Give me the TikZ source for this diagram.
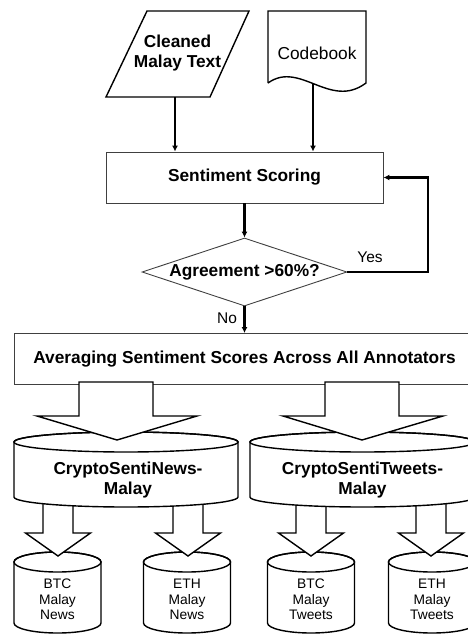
\documentclass[tikz,border=0pt]{standalone}
\usepackage{fontspec}
\setmainfont{Liberation Sans}
\usetikzlibrary{shapes.geometric,arrows.meta}

\tikzset{
  bigtxt/.style={font=\fontsize{17.3}{20}\selectfont\bfseries, align=center, inner sep=0pt},
  smalltxt/.style={font=\fontsize{13.8}{15.5}\selectfont, align=center, inner sep=0pt},
  labeltxt/.style={font=\fontsize{15.5}{18}\selectfont, inner sep=0pt},
  thinbox/.style={draw=black!75, line width=0.9pt, fill=white},
  outline/.style={draw=black, line width=1.4pt},
  flow/.style={line width=2.5pt, -{Latex[length=6pt,width=6pt]}},
  fatarrow/.style={draw=black, line width=1.4pt, fill=white, line join=miter}
}

\begin{document}
\begin{tikzpicture}[x=1pt,y=1pt]
  \clip (0,0) rectangle (468,-635);

  % inputs
  \draw[outline] (147,-11) -- (249,-11) -- (210,-97) -- (106,-97) -- cycle;
  \node[bigtxt] (clean) at (177.5,-53) {Cleaned\\Malay Text};
  \draw[outline] (268,-83) -- (268,-11) -- (366,-11) -- (366,-83) .. controls (330,-110) and (300,-60) .. (268,-83);
  \node[bigtxt, font=\fontsize{17.3}{20}\selectfont] (code) at (317,-53) {Codebook};
  \coordinate (cleanout) at (175,-97);
  \coordinate (codeout) at (313,-84);

  % scoring and check
  \node[thinbox, bigtxt, minimum width=277pt, minimum height=51pt] (scoring) at (244.5,-177.5) {Sentiment Scoring};
  \draw[flow] (cleanout) -- (cleanout |- scoring.north);
  \draw[flow] (codeout) -- (codeout |- scoring.north);

  \node[thinbox, bigtxt, diamond, aspect=3, minimum width=205pt, minimum height=68pt] (agree) at (244.5,-272) {Agreement >60\%?};
  \draw[flow] (scoring.south) -- (agree.north);
  \coordinate (loop) at (428,-272);
  \draw[flow] (agree.east) -- (loop) |- (scoring.east);
  \node[labeltxt] (yes) at (370,-257) {Yes};

  \node[thinbox, bigtxt, minimum width=461pt, minimum height=51pt] (avg) at (244.5,-359) {Averaging Sentiment Scores Across All Annotators};
  \draw[flow] (agree.south) -- (avg.north);
  \node[labeltxt] (no) at (227,-318) {No};

  % small datasets
  \draw[outline, fill=white] (14,-562) -- (14,-623) arc[start angle=180,end angle=360,x radius=43.5,y radius=10] -- (101,-562) arc[start angle=0,end angle=180,x radius=43.5,y radius=10] -- cycle;
  \draw[outline] (57.5,-562) ellipse [x radius=43.5,y radius=10];
  \node[smalltxt] (btcnews) at (57.5,-599.5) {BTC\\Malay\\News};

  \draw[outline, fill=white] (143.5,-562) -- (143.5,-623) arc[start angle=180,end angle=360,x radius=43.5,y radius=10] -- (230.5,-562) arc[start angle=0,end angle=180,x radius=43.5,y radius=10] -- cycle;
  \draw[outline] (187,-562) ellipse [x radius=43.5,y radius=10];
  \node[smalltxt] (ethnews) at (187,-599.5) {ETH\\Malay\\News};

  \draw[outline, fill=white] (267.5,-562) -- (267.5,-623) arc[start angle=180,end angle=360,x radius=43.5,y radius=10] -- (354.5,-562) arc[start angle=0,end angle=180,x radius=43.5,y radius=10] -- cycle;
  \draw[outline] (311,-562) ellipse [x radius=43.5,y radius=10];
  \node[smalltxt] (btctweets) at (311,-599.5) {BTC\\Malay\\Tweets};

  \draw[outline, fill=white] (388.5,-562) -- (388.5,-623) arc[start angle=180,end angle=360,x radius=43.5,y radius=10] -- (475.5,-562) arc[start angle=0,end angle=180,x radius=43.5,y radius=10] -- cycle;
  \draw[outline] (432,-562) ellipse [x radius=43.5,y radius=10];
  \node[smalltxt] (ethtweets) at (432,-599.5) {ETH\\Malay\\Tweets};

  % split arrows
  \draw[fatarrow] (43,-500) -- (43,-533) -- (25.5,-533) -- (58,-556) -- (90.5,-533) -- (73,-533) -- (73,-500);
  \draw[fatarrow] (173,-500) -- (173,-533) -- (155.5,-533) -- (188,-556) -- (220.5,-533) -- (203,-533) -- (203,-500);
  \draw[fatarrow] (296,-500) -- (296,-533) -- (278.5,-533) -- (311,-556) -- (343.5,-533) -- (326,-533) -- (326,-500);
  \draw[fatarrow] (416,-500) -- (416,-533) -- (398.5,-533) -- (431,-556) -- (463.5,-533) -- (446,-533) -- (446,-500);

  % corpora
  \draw[outline, fill=white] (14,-442) -- (14,-497) arc[start angle=180,end angle=360,x radius=112,y radius=10] -- (238,-442) arc[start angle=0,end angle=180,x radius=112,y radius=10] -- cycle;
  \draw[outline] (126,-442) ellipse [x radius=112,y radius=10];
  \node[bigtxt] (newsdb) at (128,-480) {CryptoSentiNews-\\Malay};

  \draw[outline, fill=white] (250,-442) -- (250,-497) arc[start angle=180,end angle=360,x radius=112.5,y radius=10] -- (475,-442) arc[start angle=0,end angle=180,x radius=112.5,y radius=10] -- cycle;
  \draw[outline] (362.5,-442) ellipse [x radius=112.5,y radius=10];
  \node[bigtxt] (tweetsdb) at (362.5,-480) {CryptoSentiTweets-\\Malay};

  \draw[fatarrow] (79,-382) -- (79,-416) -- (37,-416) -- (117,-440) -- (197,-416) -- (153,-416) -- (153,-382) -- cycle;
  \draw[fatarrow] (325,-382) -- (325,-416) -- (283,-416) -- (362,-440) -- (443,-416) -- (399,-416) -- (399,-382) -- cycle;
\end{tikzpicture}
\end{document}
